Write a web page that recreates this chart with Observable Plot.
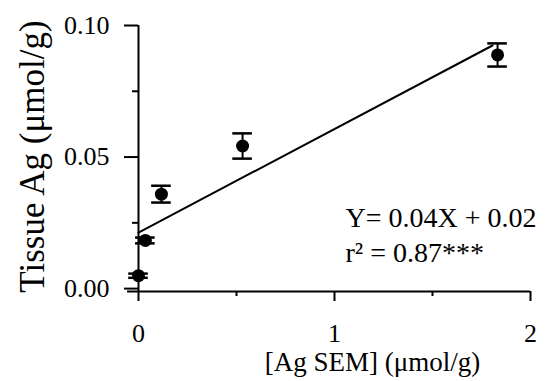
<!DOCTYPE html>
<html><head><meta charset="utf-8">
<script src="https://cdn.jsdelivr.net/npm/d3@7"></script>
<script src="https://cdn.jsdelivr.net/npm/@observablehq/plot@0.6"></script>
<style>body{margin:0;background:#fff}</style>
</head><body><div id="chart"></div>
<script>
// Data
const agSem = [0.0, 0.035, 0.117, 0.531, 1.832];          // x: [Ag SEM] (µmol/g)
const tissueAg = [0.0049, 0.0183, 0.0359, 0.0542, 0.0888]; // y: Tissue Ag (µmol/g)
const tissueErr = [0.0008, 0.0011, 0.0032, 0.0048, 0.0044];
const fitX = [0, 1.806];
const fitY = [0.0213, 0.0924];
const xTicks = [0, 1, 2];
const xMinorTicks = [0.5, 1.5];
const yTicks = [0, 0.05, 0.10];
const yMinorTicks = [0.025, 0.075];
const xTitle = "[Ag SEM] (\u03bcmol/g)";
const yTitle = "Tissue Ag (\u03bcmol/g)";
const eqText = "Y= 0.04X + 0.02";
const r2Text = "r\u00b2 = 0.87***";

const points = agSem.map((x, i) => ({x, y: tissueAg[i], lo: tissueAg[i] - tissueErr[i], hi: tissueAg[i] + tissueErr[i]}));
const fit = fitX.map((x, i) => ({x, y: fitY[i]}));

const font = "'Liberation Serif', 'Times New Roman', serif";
const capHalf = 0.05;

const chart = Plot.plot({
  width: 547, height: 381,
  marginLeft: 138, marginRight: 17, marginTop: 25, marginBottom: 90,
  style: {fontFamily: font, color: "#000", background: "#fff"},
  x: {domain: [0, 2]},
  y: {domain: [-0.0011, 0.1]},
  marks: [
    Plot.ruleY([-0.0011], {x1: -0.056, x2: 2, strokeWidth: 2}),
    Plot.ruleX([0], {y1: -0.0011, y2: 0.1, strokeWidth: 2}),
    Plot.axisX({ticks: xTicks, tickSize: 10, tickPadding: 22, fontSize: 26, strokeWidth: 2, label: null, tickFormat: d => String(d)}),
    Plot.axisX({ticks: xMinorTicks, tickSize: 5, strokeWidth: 2, label: null, tickFormat: () => ""}),
    Plot.axisY({ticks: yTicks, tickSize: 14, tickPadding: 15, fontSize: 26, strokeWidth: 2, label: null, tickFormat: d3.format(".2f")}),
    Plot.axisY({ticks: yMinorTicks, tickSize: 6, strokeWidth: 2, label: null, tickFormat: () => ""}),
    Plot.line(fit, {x: "x", y: "y", stroke: "#000", strokeWidth: 2}),
    Plot.ruleX(points, {x: "x", y1: "lo", y2: "hi", strokeWidth: 2}),
    Plot.ruleY(points, {y: "lo", x1: d => d.x - capHalf, x2: d => d.x + capHalf, strokeWidth: 2.5}),
    Plot.ruleY(points, {y: "hi", x1: d => d.x - capHalf, x2: d => d.x + capHalf, strokeWidth: 2.5}),
    Plot.dot(points, {x: "x", y: "y", r: 6.5, fill: "#000"}),
    Plot.text([eqText], {x: 1.056, y: 0.0270, text: d => d, textAnchor: "start", fontSize: 28}),
    Plot.text([r2Text], {x: 1.056, y: 0.0137, text: d => d, textAnchor: "start", fontSize: 28}),
    Plot.text([xTitle], {frameAnchor: "bottom", text: d => d, textAnchor: "middle", lineAnchor: "middle", dx: 38, dy: 71, fontSize: 27}),
    Plot.text([yTitle], {frameAnchor: "left", text: d => d, rotate: -90, textAnchor: "middle", lineAnchor: "middle", dx: -106, dy: -2, fontSize: 35})
  ]
});
document.getElementById("chart").append(chart);
</script>
</body></html>
